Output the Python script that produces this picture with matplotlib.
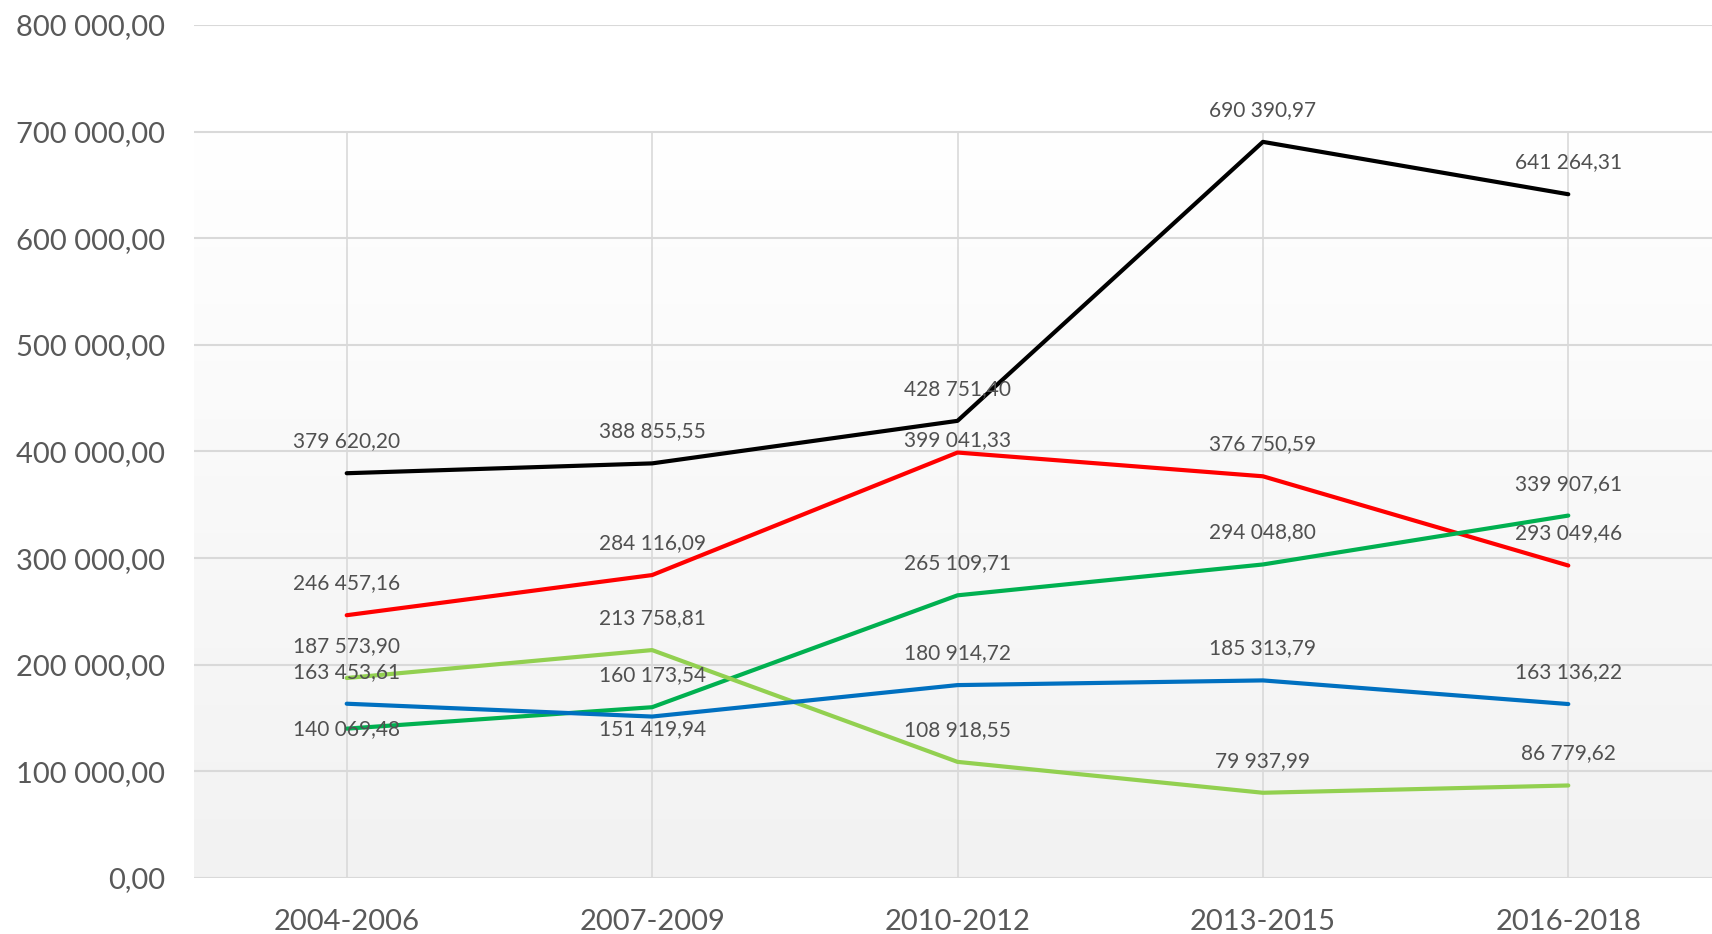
import numpy as np
import matplotlib
matplotlib.use('Agg')
import matplotlib.pyplot as plt
from matplotlib.colors import LinearSegmentedColormap

# data
periods = ['2004-2006', '2007-2009', '2010-2012', '2013-2015', '2016-2018']
black = [379620.20, 388855.55, 428751.40, 690390.97, 641264.31]
red = [246457.16, 284116.09, 399041.33, 376750.59, 293049.46]
green = [140069.48, 160173.54, 265109.71, 294048.80, 339907.61]
light_green = [187573.90, 213758.81, 108918.55, 79937.99, 86779.62]
blue = [163453.61, 151419.94, 180914.72, 185313.79, 163136.22]
yticks = [0, 100000, 200000, 300000, 400000, 500000, 600000, 700000, 800000]

series = [
    (black, '#000000', [23, 23, 23, 23, 23]),
    (red, '#ff0000', [23, 23, 9, 23, 23]),
    (green, '#00b050', [0, 23, 23, 23, 23]),
    (light_green, '#92d050', [23, 23, 23, 23, 23]),
    (blue, '#0070c0', [23, -9, 23, 23, 23]),
]

def fmt(v):
    s = '{:,.2f}'.format(v)
    return s.replace(',', ' ').replace('.', ',')

plt.rcParams['font.family'] = ['Lato', 'DejaVu Sans']

fig = plt.figure(figsize=(17.12, 9.34), dpi=100)
ax = fig.add_axes([194 / 1712, 56 / 934, 1527 / 1712, 853 / 934])
x = np.arange(len(periods))
ax.set_xlim(-0.5, len(periods) - 0.5)
ax.set_ylim(0, 800000)

# plot-area gradient (white at top to light gray at bottom)
cmap = LinearSegmentedColormap.from_list('bg', ['#f2f2f2', '#ffffff'])
grad = np.linspace(0, 1, 256).reshape(-1, 1)
ax.imshow(grad, cmap=cmap, origin='lower', aspect='auto',
          extent=(-0.5, len(periods) - 0.5, 0, 700000), zorder=0)

for yv in yticks:
    ax.axhline(yv, color='#d9d9d9', lw=1.5, zorder=1)
ax.vlines(x, 0, 700000, color='#d9d9d9', lw=1.2, zorder=1)

for vals, col, offs in series:
    ax.plot(x, vals, color=col, lw=3.0, solid_capstyle='round', zorder=3)
    for xi, v, o in zip(x, vals, offs):
        ax.annotate(fmt(v), (xi, v), xytext=(0, o), textcoords='offset points',
                    ha='center', va='center', fontsize=15, color='#505050', zorder=4)

ax.set_xticks(x)
ax.set_xticklabels(periods)
ax.set_yticks(yticks)
ax.set_yticklabels([fmt(v) for v in yticks])
ax.tick_params(axis='both', length=0, labelsize=21, labelcolor='#595959')
ax.tick_params(axis='y', pad=21)
ax.tick_params(axis='x', pad=22)
for s in ['top', 'right', 'left', 'bottom']:
    ax.spines[s].set_visible(False)

fig.savefig('out.png', dpi=100)
